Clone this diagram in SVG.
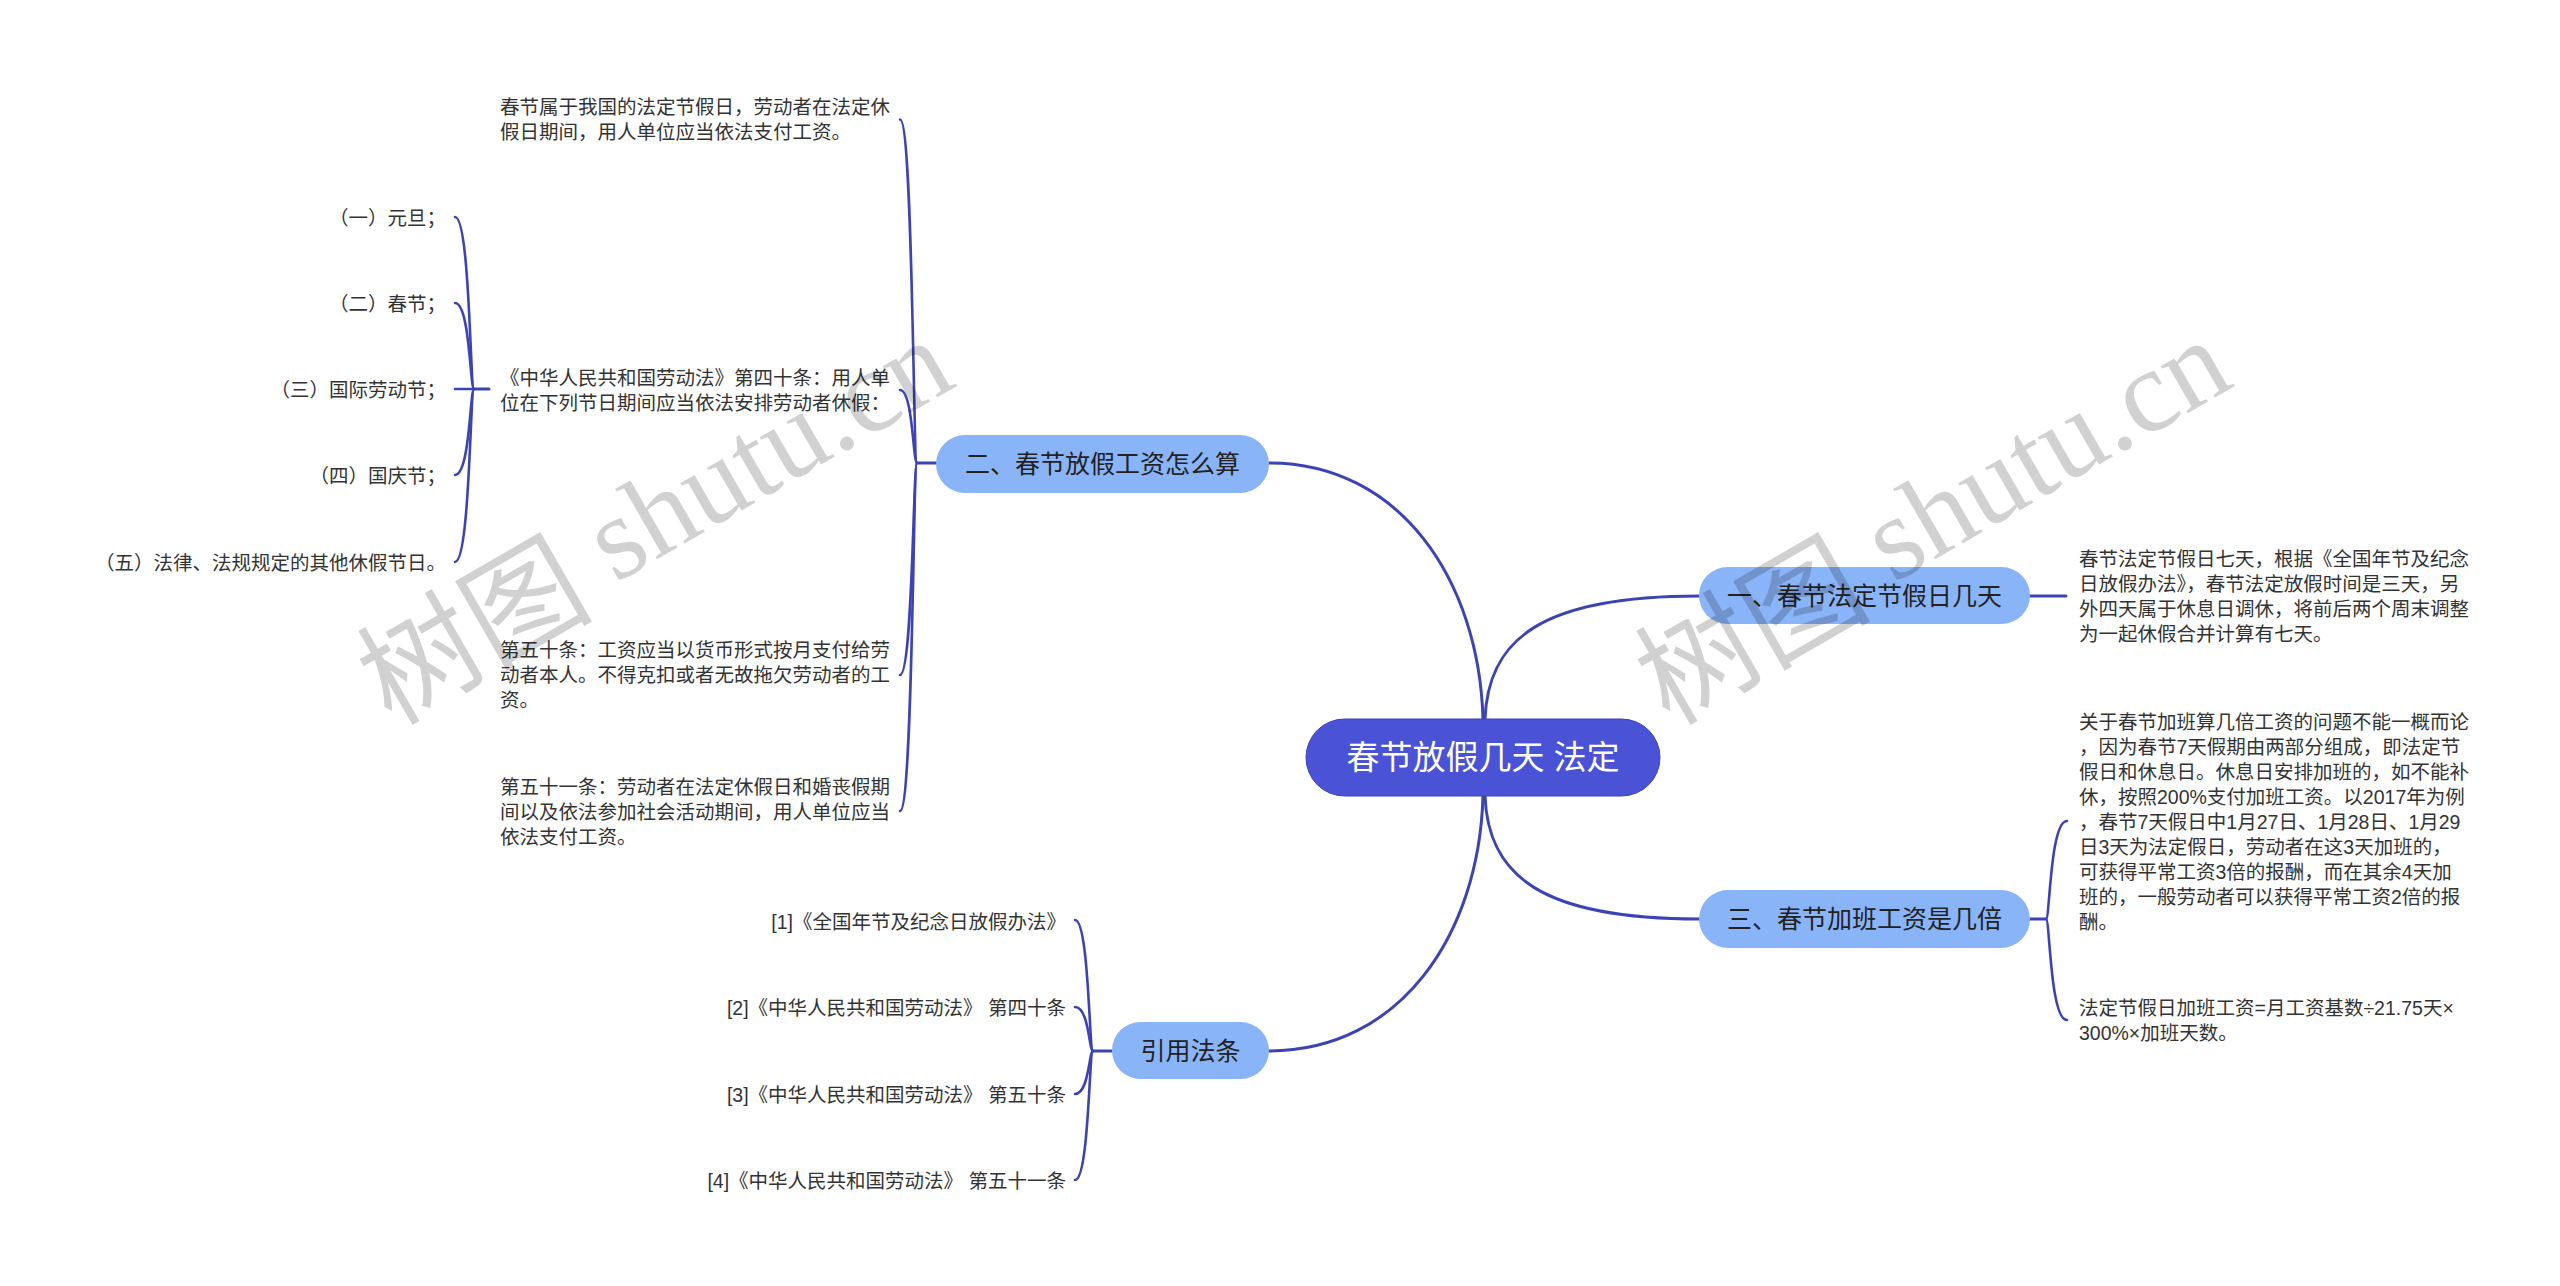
<svg xmlns="http://www.w3.org/2000/svg" width="2560" height="1286" viewBox="0 0 2560 1286">
<style>
text{font-family:'Liberation Sans','Noto Sans CJK SC',sans-serif;dominant-baseline:central}
.conn path{fill:none;stroke:#3c43b2;stroke-width:3;stroke-linecap:round}
.conn .br{stroke-width:2.6}
.topic{fill:#8ab4f8}
.root{fill:#4a52d6;stroke:#3c43b2;stroke-width:1}
.tt{font-size:25px;fill:#222;text-anchor:middle}
.rt{font-size:33px;fill:#fff;text-anchor:middle}
.leaf{font-size:19.5px;fill:#333}
.end{text-anchor:end}
.wm{font-size:118px;fill:#000;fill-opacity:0.18;text-anchor:middle}
</style>
<rect width="2560" height="1286" fill="#fff"/>
<g id="connectors" class="conn">
  <path d="M1483 719 C1479 580 1400 463 1269 463"/>
  <path d="M1485 719 C1488 640 1540 596 1699 596"/>
  <path d="M1485 796 C1488 875 1540 919 1699 919"/>
  <path d="M1483 796 C1479 935 1400 1051 1269 1051"/>
  <path d="M2030 596 L2066 596"/>
  <path d="M2030 919 L2046 919"/>
  <path class="br" d="M2046 919 C2050 919 2050 821 2067 821"/>
  <path class="br" d="M2046 919 C2050 919 2050 1020 2067 1020"/>
  <path d="M936 463 L917 463"/>
  <path class="br" d="M917 463 C913 463 913 119.5 900 119.5"/>
  <path class="br" d="M917 463 C913 463 913 390 900 390"/>
  <path class="br" d="M917 463 C913 463 913 675 900 675"/>
  <path class="br" d="M917 463 C913 463 913 811 900 811"/>
  <path d="M489 389 L474 389"/>
  <path class="br" d="M474 389 C470 389 470 217 455 217"/>
  <path class="br" d="M474 389 C470 389 470 303 455 303"/>
  <path class="br" d="M474 389 L455 389"/>
  <path class="br" d="M474 389 C470 389 470 475 455 475"/>
  <path class="br" d="M474 389 C470 389 470 562 455 562"/>
  <path d="M1112 1051 L1093 1051"/>
  <path class="br" d="M1093 1051 C1089 1051 1089 920 1075 920"/>
  <path class="br" d="M1093 1051 C1089 1051 1089 1007 1075 1007"/>
  <path class="br" d="M1093 1051 C1089 1051 1089 1094 1075 1094"/>
  <path class="br" d="M1093 1051 C1089 1051 1089 1180 1075 1180"/>
</g>
<g id="root">
  <rect class="root" x="1306" y="719" width="354" height="77" rx="38.5"/>
  <text class="rt" x="1483" y="757.5">春节放假几天 法定</text>
</g>
<g id="topic-1">
  <rect class="topic" x="1699" y="567" width="331" height="57" rx="28.5"/>
  <text class="tt" x="1864.5" y="595.5">一、春节法定节假日几天</text>
</g>
<g id="topic-2">
  <rect class="topic" x="936" y="435" width="333" height="58" rx="29"/>
  <text class="tt" x="1102.5" y="464">二、春节放假工资怎么算</text>
</g>
<g id="topic-3">
  <rect class="topic" x="1699" y="890" width="331" height="58" rx="29"/>
  <text class="tt" x="1864.5" y="919">三、春节加班工资是几倍</text>
</g>
<g id="topic-4">
  <rect class="topic" x="1112" y="1022" width="157" height="57" rx="28.5"/>
  <text class="tt" x="1190.5" y="1050.5">引用法条</text>
</g>
<g id="leaf-1-1">
  <text class="leaf" x="2079" y="558.5">春节法定节假日七天，根据《全国年节及纪念</text>
  <text class="leaf" x="2079" y="583.5">日放假办法》，春节法定放假时间是三天，另</text>
  <text class="leaf" x="2079" y="608.5">外四天属于休息日调休，将前后两个周末调整</text>
  <text class="leaf" x="2079" y="633.5">为一起休假合并计算有七天。</text>
</g>
<g id="leaf-3-1">
  <text class="leaf" x="2079" y="721.5">关于春节加班算几倍工资的问题不能一概而论</text>
  <text class="leaf" x="2079" y="746.5">，因为春节7天假期由两部分组成，即法定节</text>
  <text class="leaf" x="2079" y="771.5">假日和休息日。休息日安排加班的，如不能补</text>
  <text class="leaf" x="2079" y="796.5">休，按照200%支付加班工资。以2017年为例</text>
  <text class="leaf" x="2079" y="821.5">，春节7天假日中1月27日、1月28日、1月29</text>
  <text class="leaf" x="2079" y="846.5">日3天为法定假日，劳动者在这3天加班的，</text>
  <text class="leaf" x="2079" y="871.5">可获得平常工资3倍的报酬，而在其余4天加</text>
  <text class="leaf" x="2079" y="896.5">班的，一般劳动者可以获得平常工资2倍的报</text>
  <text class="leaf" x="2079" y="921.5">酬。</text>
</g>
<g id="leaf-3-2">
  <text class="leaf" x="2079" y="1007.5">法定节假日加班工资=月工资基数÷21.75天×</text>
  <text class="leaf" x="2079" y="1032.5">300%×加班天数。</text>
</g>
<g id="leaf-2-1">
  <text class="leaf" x="500" y="107">春节属于我国的法定节假日，劳动者在法定休</text>
  <text class="leaf" x="500" y="132">假日期间，用人单位应当依法支付工资。</text>
</g>
<g id="leaf-2-2">
  <text class="leaf" x="500" y="377.5">《中华人民共和国劳动法》第四十条：用人单</text>
  <text class="leaf" x="500" y="402.5">位在下列节日期间应当依法安排劳动者休假：</text>
</g>
<g id="leaf-2-2-1"><text class="leaf end" x="446" y="218">（一）元旦；</text></g>
<g id="leaf-2-2-2"><text class="leaf end" x="446" y="304">（二）春节；</text></g>
<g id="leaf-2-2-3"><text class="leaf end" x="446" y="390">（三）国际劳动节；</text></g>
<g id="leaf-2-2-4"><text class="leaf end" x="446" y="476">（四）国庆节；</text></g>
<g id="leaf-2-2-5"><text class="leaf end" x="446" y="563">（五）法律、法规规定的其他休假节日。</text></g>
<g id="leaf-2-3">
  <text class="leaf" x="500" y="650">第五十条：工资应当以货币形式按月支付给劳</text>
  <text class="leaf" x="500" y="675">动者本人。不得克扣或者无故拖欠劳动者的工</text>
  <text class="leaf" x="500" y="700">资。</text>
</g>
<g id="leaf-2-4">
  <text class="leaf" x="500" y="786.5">第五十一条：劳动者在法定休假日和婚丧假期</text>
  <text class="leaf" x="500" y="811.5">间以及依法参加社会活动期间，用人单位应当</text>
  <text class="leaf" x="500" y="836.5">依法支付工资。</text>
</g>
<g id="leaf-4-1"><text class="leaf end" x="1066" y="922">[1]《全国年节及纪念日放假办法》</text></g>
<g id="leaf-4-2"><text class="leaf end" x="1066" y="1008">[2]《中华人民共和国劳动法》 第四十条</text></g>
<g id="leaf-4-3"><text class="leaf end" x="1066" y="1095">[3]《中华人民共和国劳动法》 第五十条</text></g>
<g id="leaf-4-4"><text class="leaf end" x="1066" y="1181">[4]《中华人民共和国劳动法》 第五十一条</text></g>
<g id="watermark">
  <text class="wm" x="652" y="516" transform="rotate(-30 652 516)"><tspan font-family="'Noto Sans CJK SC',sans-serif">树图</tspan><tspan font-family="'Liberation Serif',serif"> shutu.cn</tspan></text>
  <text class="wm" x="1930" y="516" transform="rotate(-30 1930 516)"><tspan font-family="'Noto Sans CJK SC',sans-serif">树图</tspan><tspan font-family="'Liberation Serif',serif"> shutu.cn</tspan></text>
</g>
</svg>
